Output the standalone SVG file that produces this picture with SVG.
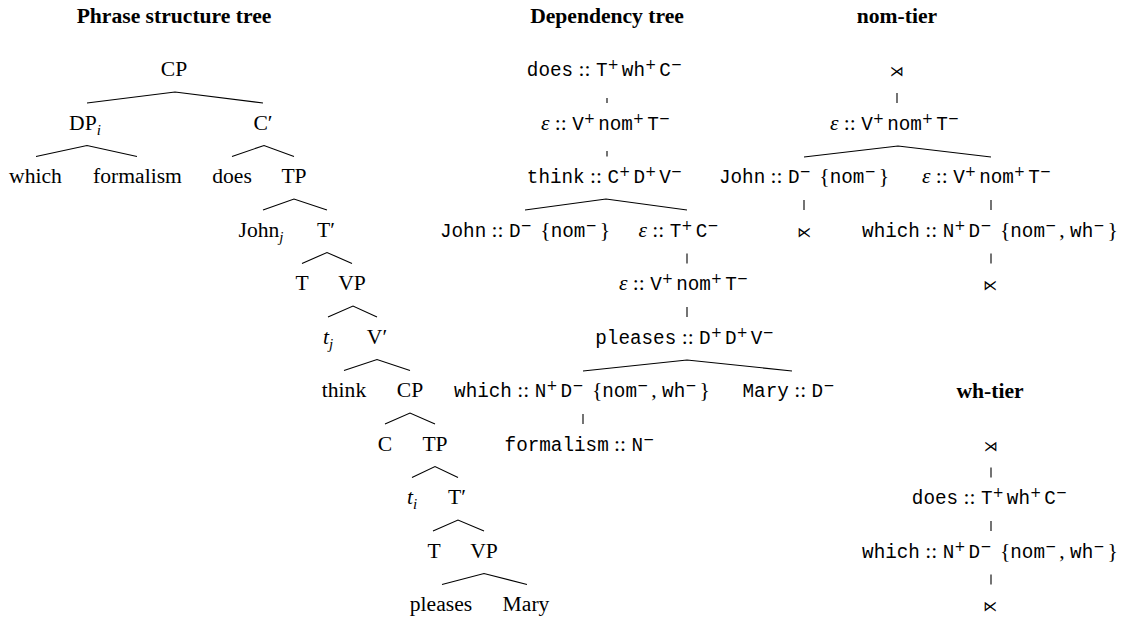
<svg xmlns="http://www.w3.org/2000/svg" width="1122" height="621" viewBox="0 0 1122 621">
<style>
text { fill: #000; }
.rm { font-family: "Liberation Serif", serif; font-size: 21.6px; text-anchor: middle; }
.ttl { font-family: "Liberation Serif", serif; font-size: 21.6px; font-weight: bold; text-anchor: middle; }
.tt { font-family: "Liberation Mono", monospace; font-size: 19.3px; text-anchor: middle; }
.m { font-family: "Liberation Serif", serif; font-size: 21.6px; }
.it { font-family: "Liberation Serif", serif; font-style: italic; }
.sup { font-family: "DejaVu Sans", sans-serif; font-size: 13.5px; letter-spacing: 3px; }
.sub { font-family: "Liberation Serif", serif; font-style: italic; font-size: 15px; }
.sym { font-family: "DejaVu Sans", sans-serif; font-size: 14px; text-anchor: middle; }
.edge { stroke: #000; stroke-width: 1.1; fill: none; }
</style>
<rect width="1122" height="621" fill="#fff"/>

<g id="titles">
  <text class="ttl" x="174" y="23">Phrase structure tree</text>
  <text class="ttl" x="607" y="23">Dependency tree</text>
  <text class="ttl" x="897" y="23">nom-tier</text>
  <text class="ttl" x="990" y="398">wh-tier</text>
</g>

<g id="connectors">
  <!-- phrase structure tree -->
  <polyline class="edge" points="87,103 175,92 263,103"/>
  <polyline class="edge" points="36,156.5 87,145.5 137,156.5"/>
  <polyline class="edge" points="232,156.5 264,145.5 294,156.5"/>
  <polyline class="edge" points="263,210 294,199 327,210"/>
  <polyline class="edge" points="302,263.5 327,252.5 352,263.5"/>
  <polyline class="edge" points="328,317 353,306 377,317"/>
  <polyline class="edge" points="344,370.5 377,359.5 410,370.5"/>
  <polyline class="edge" points="385,424 410,413 435,424"/>
  <polyline class="edge" points="412,477.5 435,466.5 458,477.5"/>
  <polyline class="edge" points="433,531 458,520 484,531"/>
  <polyline class="edge" points="442,584.5 484,573.5 527,584.5"/>
  <!-- dependency tree -->
  <line class="edge" x1="607" y1="98" x2="607" y2="103"/>
  <line class="edge" x1="607" y1="151" x2="607" y2="156.5"/>
  <polyline class="edge" points="525,210 606,199 687,210"/>
  <line class="edge" x1="687" y1="253.5" x2="687" y2="263.5"/>
  <line class="edge" x1="687" y1="307" x2="687" y2="317"/>
  <polyline class="edge" points="583,371 687,360 792,371"/>
  <line class="edge" x1="583" y1="414" x2="583" y2="424"/>
  <!-- nom-tier -->
  <line class="edge" x1="897" y1="93" x2="897" y2="103"/>
  <polyline class="edge" points="804,157 898,146 991,157"/>
  <line class="edge" x1="804" y1="200" x2="804" y2="210"/>
  <line class="edge" x1="991" y1="200" x2="991" y2="210"/>
  <line class="edge" x1="991" y1="253.5" x2="991" y2="263.5"/>
  <!-- wh-tier -->
  <line class="edge" x1="991" y1="467.5" x2="991" y2="477.5"/>
  <line class="edge" x1="991" y1="521" x2="991" y2="531"/>
  <line class="edge" x1="991" y1="574.5" x2="991" y2="584.5"/>
</g>

<!-- Phrase structure tree nodes -->
<g id="ps-CP"><text class="rm" x="174" y="76">CP</text></g>
<g id="ps-DP"><text class="rm" x="85" y="129.5">DP<tspan class="sub" dy="5">i</tspan></text></g>
<g id="ps-Cbar"><text class="rm" x="263" y="129.5">C′</text></g>
<g id="ps-which"><text class="rm" x="35.5" y="183">which</text></g>
<g id="ps-formalism"><text class="rm" x="137.5" y="183">formalism</text></g>
<g id="ps-does"><text class="rm" x="232" y="183">does</text></g>
<g id="ps-TP1"><text class="rm" x="294" y="183">TP</text></g>
<g id="ps-John"><text class="rm" x="261" y="236.5">John<tspan class="sub" dy="5">j</tspan></text></g>
<g id="ps-Tbar1"><text class="rm" x="326" y="236.5">T′</text></g>
<g id="ps-T1"><text class="rm" x="302" y="290">T</text></g>
<g id="ps-VP1"><text class="rm" x="352" y="290">VP</text></g>
<g id="ps-tj"><text class="rm" x="328" y="343.5"><tspan class="it">t</tspan><tspan class="sub" dy="5">j</tspan></text></g>
<g id="ps-Vbar"><text class="rm" x="377" y="343.5">V′</text></g>
<g id="ps-think"><text class="rm" x="344" y="397">think</text></g>
<g id="ps-CP2"><text class="rm" x="410" y="397">CP</text></g>
<g id="ps-C2"><text class="rm" x="385" y="450.5">C</text></g>
<g id="ps-TP2"><text class="rm" x="435" y="450.5">TP</text></g>
<g id="ps-ti"><text class="rm" x="412" y="504"><tspan class="it">t</tspan><tspan class="sub" dy="5">i</tspan></text></g>
<g id="ps-Tbar2"><text class="rm" x="457" y="504">T′</text></g>
<g id="ps-T2"><text class="rm" x="434" y="557.5">T</text></g>
<g id="ps-VP2"><text class="rm" x="484" y="557.5">VP</text></g>
<g id="ps-pleases"><text class="rm" x="441" y="611">pleases</text></g>
<g id="ps-Mary"><text class="rm" x="526" y="611">Mary</text></g>

<!-- Dependency tree nodes -->
<g id="dt-does"><text class="tt" x="606" y="76">does<tspan class="m"> :: </tspan>T<tspan class="sup" dy="-7">+</tspan><tspan dy="7">wh</tspan><tspan class="sup" dy="-7">+</tspan><tspan dy="7">C</tspan><tspan class="sup" dy="-7">−</tspan></text></g>
<g id="dt-eps1"><text class="tt" x="607" y="129.5"><tspan class="m it">ε</tspan><tspan class="m"> :: </tspan>V<tspan class="sup" dy="-7">+</tspan><tspan dy="7">nom</tspan><tspan class="sup" dy="-7">+</tspan><tspan dy="7">T</tspan><tspan class="sup" dy="-7">−</tspan></text></g>
<g id="dt-think"><text class="tt" x="606" y="183">think<tspan class="m"> :: </tspan>C<tspan class="sup" dy="-7">+</tspan><tspan dy="7">D</tspan><tspan class="sup" dy="-7">+</tspan><tspan dy="7">V</tspan><tspan class="sup" dy="-7">−</tspan></text></g>
<g id="dt-John"><text class="tt" x="525" y="236.5">John<tspan class="m"> :: </tspan>D<tspan class="sup" dy="-7">−</tspan><tspan class="m" dy="7"> {</tspan>nom<tspan class="sup" dy="-7">−</tspan><tspan class="m" dy="7">}</tspan></text></g>
<g id="dt-eps2"><text class="tt" x="680" y="236.5"><tspan class="m it">ε</tspan><tspan class="m"> :: </tspan>T<tspan class="sup" dy="-7">+</tspan><tspan dy="7">C</tspan><tspan class="sup" dy="-7">−</tspan></text></g>
<g id="dt-eps3"><text class="tt" x="685" y="290"><tspan class="m it">ε</tspan><tspan class="m"> :: </tspan>V<tspan class="sup" dy="-7">+</tspan><tspan dy="7">nom</tspan><tspan class="sup" dy="-7">+</tspan><tspan dy="7">T</tspan><tspan class="sup" dy="-7">−</tspan></text></g>
<g id="dt-pleases"><text class="tt" x="686" y="343.5">pleases<tspan class="m"> :: </tspan>D<tspan class="sup" dy="-7">+</tspan><tspan dy="7">D</tspan><tspan class="sup" dy="-7">+</tspan><tspan dy="7">V</tspan><tspan class="sup" dy="-7">−</tspan></text></g>
<g id="dt-which"><text class="tt" x="582" y="397">which<tspan class="m"> :: </tspan>N<tspan class="sup" dy="-7">+</tspan><tspan dy="7">D</tspan><tspan class="sup" dy="-7">−</tspan><tspan class="m" dy="7"> {</tspan>nom<tspan class="sup" dy="-7">−</tspan><tspan class="m" dy="7">, </tspan>wh<tspan class="sup" dy="-7">−</tspan><tspan class="m" dy="7">}</tspan></text></g>
<g id="dt-Mary"><text class="tt" x="790" y="397">Mary<tspan class="m"> :: </tspan>D<tspan class="sup" dy="-7">−</tspan></text></g>
<g id="dt-formalism"><text class="tt" x="581" y="450.5">formalism<tspan class="m"> :: </tspan>N<tspan class="sup" dy="-7">−</tspan></text></g>

<!-- nom-tier nodes -->
<g id="nt-start"><text class="sym" x="897" y="76">⋊</text></g>
<g id="nt-eps1"><text class="tt" x="896" y="129.5"><tspan class="m it">ε</tspan><tspan class="m"> :: </tspan>V<tspan class="sup" dy="-7">+</tspan><tspan dy="7">nom</tspan><tspan class="sup" dy="-7">+</tspan><tspan dy="7">T</tspan><tspan class="sup" dy="-7">−</tspan></text></g>
<g id="nt-John"><text class="tt" x="804" y="183">John<tspan class="m"> :: </tspan>D<tspan class="sup" dy="-7">−</tspan><tspan class="m" dy="7"> {</tspan>nom<tspan class="sup" dy="-7">−</tspan><tspan class="m" dy="7">}</tspan></text></g>
<g id="nt-eps2"><text class="tt" x="988" y="183"><tspan class="m it">ε</tspan><tspan class="m"> :: </tspan>V<tspan class="sup" dy="-7">+</tspan><tspan dy="7">nom</tspan><tspan class="sup" dy="-7">+</tspan><tspan dy="7">T</tspan><tspan class="sup" dy="-7">−</tspan></text></g>
<g id="nt-end1"><text class="sym" x="804" y="236.5">⋉</text></g>
<g id="nt-which"><text class="tt" x="990" y="236.5">which<tspan class="m"> :: </tspan>N<tspan class="sup" dy="-7">+</tspan><tspan dy="7">D</tspan><tspan class="sup" dy="-7">−</tspan><tspan class="m" dy="7"> {</tspan>nom<tspan class="sup" dy="-7">−</tspan><tspan class="m" dy="7">, </tspan>wh<tspan class="sup" dy="-7">−</tspan><tspan class="m" dy="7">}</tspan></text></g>
<g id="nt-end2"><text class="sym" x="990" y="290">⋉</text></g>

<!-- wh-tier nodes -->
<g id="wt-start"><text class="sym" x="991" y="450.5">⋊</text></g>
<g id="wt-does"><text class="tt" x="991" y="504">does<tspan class="m"> :: </tspan>T<tspan class="sup" dy="-7">+</tspan><tspan dy="7">wh</tspan><tspan class="sup" dy="-7">+</tspan><tspan dy="7">C</tspan><tspan class="sup" dy="-7">−</tspan></text></g>
<g id="wt-which"><text class="tt" x="990" y="557.5">which<tspan class="m"> :: </tspan>N<tspan class="sup" dy="-7">+</tspan><tspan dy="7">D</tspan><tspan class="sup" dy="-7">−</tspan><tspan class="m" dy="7"> {</tspan>nom<tspan class="sup" dy="-7">−</tspan><tspan class="m" dy="7">, </tspan>wh<tspan class="sup" dy="-7">−</tspan><tspan class="m" dy="7">}</tspan></text></g>
<g id="wt-end"><text class="sym" x="990" y="611">⋉</text></g>
</svg>
